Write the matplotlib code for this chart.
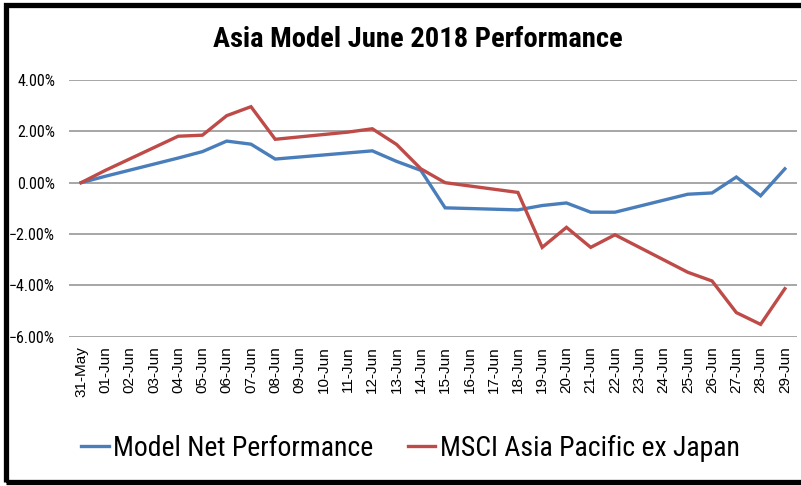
import matplotlib
matplotlib.use("Agg")
import matplotlib.pyplot as plt
from matplotlib.patches import Rectangle
from matplotlib.ticker import PercentFormatter
import pandas as pd

# trading days with data (weekends are gaps on the date axis)
dates = ["2018-05-31", "2018-06-01", "2018-06-04", "2018-06-05", "2018-06-06",
         "2018-06-07", "2018-06-08", "2018-06-11", "2018-06-12", "2018-06-13",
         "2018-06-14", "2018-06-15", "2018-06-18", "2018-06-19", "2018-06-20",
         "2018-06-21", "2018-06-22", "2018-06-25", "2018-06-26", "2018-06-27",
         "2018-06-28", "2018-06-29"]
model = [0.00, 0.25, 0.96, 1.21, 1.62, 1.50, 0.92, 1.16, 1.24, 0.83,
         0.48, -0.98, -1.06, -0.89, -0.79, -1.15, -1.15, -0.45, -0.40, 0.22,
         -0.51, 0.54]
msci = [0.00, 0.48, 1.81, 1.85, 2.61, 2.96, 1.69, 1.97, 2.10, 1.49,
        0.54, 0.00, -0.38, -2.52, -1.74, -2.52, -2.03, -3.49, -3.83, -5.06,
        -5.52, -4.13]

start = pd.Timestamp("2018-05-31")
x = (pd.to_datetime(dates) - start).days
tick_days = pd.date_range("2018-05-31", "2018-06-29", freq="D")
tick_pos = (tick_days - start).days
tick_labels = tick_days.strftime("%d-%b")

BLUE = "#4A7EBB"
RED = "#BE4B48"
NARROW = ["Roboto Condensed", "PT Sans Narrow", "DejaVu Sans"]

fig = plt.figure(figsize=(8.01, 4.86), dpi=100)
ax = fig.add_axes([0.0861, 0.3072, 0.9089, 0.5282])

l1, = ax.plot(x, model, color=BLUE, lw=2.4, solid_joinstyle="miter",
              label="Model Net Performance")
l2, = ax.plot(x, msci, color=RED, lw=2.4, solid_joinstyle="miter",
              label="MSCI Asia Pacific ex Japan")

ax.set_ylim(-6, 4)
ax.set_yticks([4, 2, 0, -2, -4, -6])
ax.yaxis.set_major_formatter(PercentFormatter(decimals=2))
ax.set_xlim(-0.5, 29.5)
ax.set_xticks(tick_pos)
ax.set_xticklabels(tick_labels, rotation=90, fontsize=11,
                   family=["Liberation Sans", "DejaVu Sans"])
for lab in ax.get_yticklabels():
    lab.set_family(NARROW)
    lab.set_fontsize(11.5)
ax.tick_params(length=0)
ax.tick_params(axis="y", pad=10)
ax.tick_params(axis="x", pad=7)
ax.grid(axis="y", color="#A6A6A6", lw=1.4)
ax.set_axisbelow(True)
for s in ax.spines.values():
    s.set_visible(False)

fig.text(0.522, 1 - 47 / 486, "Asia Model June 2018 Performance",
         ha="center", va="baseline", fontsize=20.5, fontweight="bold", family=NARROW)

fig.legend(handles=[l1, l2], loc="center", bbox_to_anchor=(0.512, 1 - 448 / 486),
           ncol=2, frameon=False, handlelength=1.0, handletextpad=0.15,
           columnspacing=1.25, prop={"family": NARROW, "size": 20})

# chart border (cut off at the right edge)
fig.patches.append(Rectangle((5.5 / 801, 1 - 482 / 486), 1.05, (482 - 5.5) / 486,
                             transform=fig.transFigure, fill=False,
                             edgecolor="black", lw=3.8))

fig.savefig("out.png", dpi=100)
